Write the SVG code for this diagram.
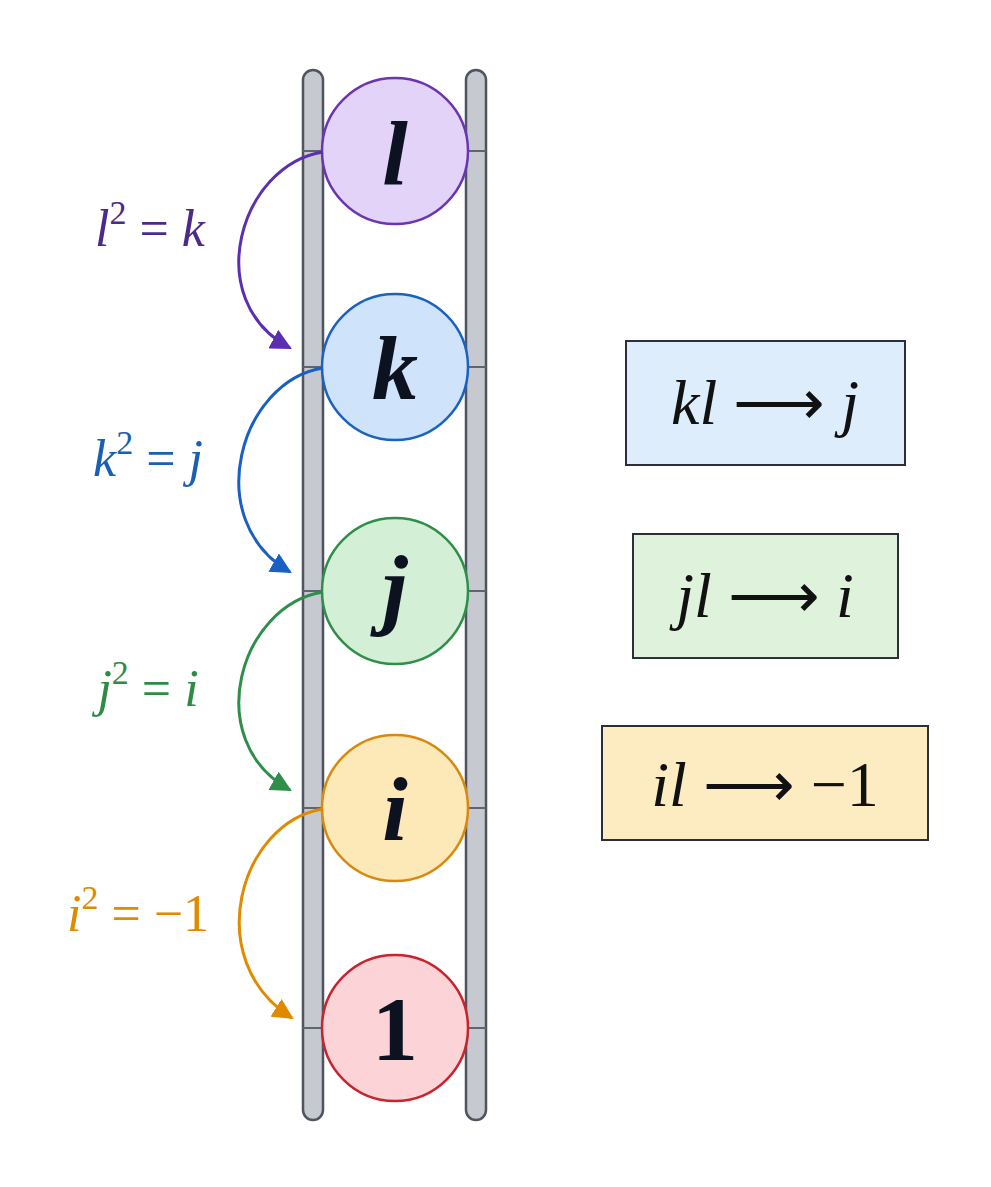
<svg xmlns="http://www.w3.org/2000/svg" width="991" height="1187" viewBox="0 0 991 1187">
<style>
.rail{fill:#c6c9d0;stroke:#4e5561;stroke-width:2.5}
.rung{stroke:#5e6470;stroke-width:2}
.node text{font-family:"Liberation Serif",serif;font-style:italic;font-weight:bold;font-size:92px;fill:#0d1220;text-anchor:middle}
.lbl{font-family:"Liberation Serif",serif;font-style:italic;font-size:52px}
.box rect{stroke:#2a2f3a;stroke-width:2}
.box text{font-family:"Liberation Serif",serif;font-style:italic;font-size:64px;fill:#111;text-anchor:middle}
.arc{fill:none;stroke-width:3}
</style>
<defs>
<marker id="mp" viewBox="0 0 10 10" refX="9" refY="5" markerWidth="7" markerHeight="7" orient="auto"><path d="M0,0 L10,5 L0,10 z" fill="#5b2fae"/></marker>
<marker id="mb" viewBox="0 0 10 10" refX="9" refY="5" markerWidth="7" markerHeight="7" orient="auto"><path d="M0,0 L10,5 L0,10 z" fill="#1a5fc4"/></marker>
<marker id="mg" viewBox="0 0 10 10" refX="9" refY="5" markerWidth="7" markerHeight="7" orient="auto"><path d="M0,0 L10,5 L0,10 z" fill="#2e8e4a"/></marker>
<marker id="mo" viewBox="0 0 10 10" refX="9" refY="5" markerWidth="7" markerHeight="7" orient="auto"><path d="M0,0 L10,5 L0,10 z" fill="#e08a00"/></marker>
</defs>
<rect width="991" height="1187" fill="#fff"/>
<g id="ladder">
<rect class="rail" x="303" y="70" width="20" height="1050" rx="10"/>
<rect class="rail" x="466" y="70" width="20" height="1050" rx="10"/>
<line class="rung" x1="303" y1="151" x2="486" y2="151"/>
<line class="rung" x1="303" y1="367" x2="486" y2="367"/>
<line class="rung" x1="303" y1="591" x2="486" y2="591"/>
<line class="rung" x1="303" y1="808" x2="486" y2="808"/>
<line class="rung" x1="303" y1="1028" x2="486" y2="1028"/>
</g>
<g id="node-l" class="node"><circle cx="395" cy="151" r="73" fill="#e3d3f8" stroke="#6a35b0" stroke-width="2.5"/><text x="395" y="184">l</text></g>
<g id="node-k" class="node"><circle cx="395" cy="367" r="73" fill="#cfe3fa" stroke="#1a62c0" stroke-width="2.5"/><text x="395" y="399">k</text></g>
<g id="node-j" class="node"><circle cx="395" cy="591" r="73" fill="#d3efd6" stroke="#2e8e4a" stroke-width="2.5"/><text x="395" y="618">j</text></g>
<g id="node-i" class="node"><circle cx="395" cy="808" r="73" fill="#fde8b8" stroke="#d88a10" stroke-width="2.5"/><text x="395" y="840">i</text></g>
<g id="node-1" class="node"><circle cx="395" cy="1028" r="73" fill="#fcd3d6" stroke="#c8242e" stroke-width="2.5"/><text x="395" y="1060" style="font-style:normal">1</text></g>
<g id="connectors">
<path class="arc" stroke="#5b2fae" d="M323,152 C240,165 200,300 290,348" marker-end="url(#mp)"/>
<path class="arc" stroke="#1a5fc4" d="M323,368 C240,381 200,520 290,572" marker-end="url(#mb)"/>
<path class="arc" stroke="#2e8e4a" d="M323,592 C240,605 200,740 290,790" marker-end="url(#mg)"/>
<path class="arc" stroke="#e08a00" d="M323,809 C240,822 200,960 292,1018" marker-end="url(#mo)"/>
</g>
<g id="labels">
<text class="lbl" x="150" y="246" fill="#4b2a8a" text-anchor="middle">l<tspan dy="-22" font-size="34" font-style="normal">2</tspan><tspan dy="22" font-style="normal"> = </tspan>k</text>
<text class="lbl" x="148" y="476" fill="#1a5fb4" text-anchor="middle">k<tspan dy="-22" font-size="34" font-style="normal">2</tspan><tspan dy="22" font-style="normal"> = </tspan>j</text>
<text class="lbl" x="148" y="706" fill="#2e8b46" text-anchor="middle">j<tspan dy="-22" font-size="34" font-style="normal">2</tspan><tspan dy="22" font-style="normal"> = </tspan>i</text>
<text class="lbl" x="138" y="931" fill="#e08a00" text-anchor="middle">i<tspan dy="-22" font-size="34" font-style="normal">2</tspan><tspan dy="22" font-style="normal"> = −1</tspan></text>
</g>
<g id="box-kl" class="box"><rect x="626" y="341" width="279" height="124" fill="#deedfb"/><text x="765" y="424">kl <tspan font-style="normal">⟶</tspan> j</text></g>
<g id="box-jl" class="box"><rect x="633" y="534" width="265" height="124" fill="#dff2dc"/><text x="765" y="617">jl <tspan font-style="normal">⟶</tspan> i</text></g>
<g id="box-il" class="box"><rect x="602" y="726" width="326" height="114" fill="#fdebc2"/><text x="765" y="806">il <tspan font-style="normal">⟶ −1</tspan></text></g>
</svg>
